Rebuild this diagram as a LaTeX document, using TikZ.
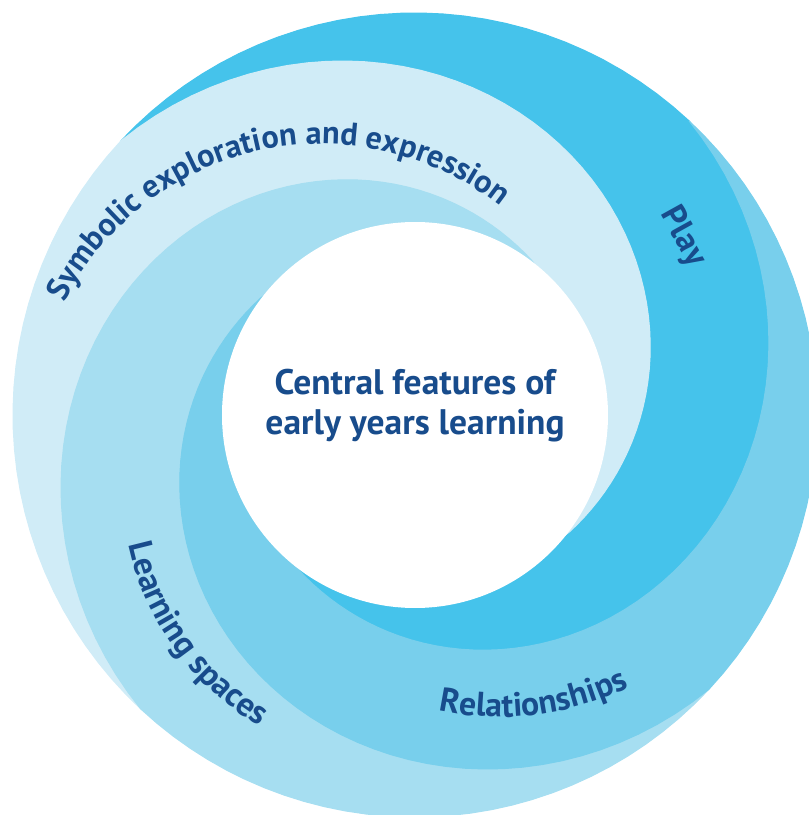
\documentclass[tikz,border=0pt]{standalone}
\usepackage{fontspec}
\setmainfont{PT Sans}
\usetikzlibrary{decorations.text}
\definecolor{playblue}{RGB}{69,195,235}
\definecolor{relblue}{RGB}{120,207,236}
\definecolor{spaceblue}{RGB}{166,222,241}
\definecolor{symblue}{RGB}{208,236,247}
\definecolor{labelnavy}{RGB}{24,76,140}
\newcommand{\ringfont}{\bfseries\fontsize{9.6}{11}\selectfont}

\begin{document}
\begin{tikzpicture}[x=0.1mm, y=0.1mm,
  declare function={spir(\t)=(\t<175) ? (402+(\t/100)*(-97+(\t/100)*(-59.74+26.84*\t/100))) : (193.2-(\t-175));
                    spout(\t)=min(402,spir(\t-90));},
  band/.style={line width=0.3pt, line join=round},
  ringtext/.style={decorate, decoration={text along path, text align=center, text color=labelnavy, text={#1}}}]
\useasboundingbox (0,0) rectangle (809,815);
\clip (0,0) rectangle (809,815);
% Four spiral bands, each starting at its tip and winding inwards
\begin{scope}[shift={(415,400)}]
\foreach \a/\col in {137/playblue, 227/symblue, 317/spaceblue, 47/relblue}
  \fill[\col, draw=\col, band] plot[domain=0:270, samples=91, variable=\t] ({\a-\t}:{spout(\t)})
    -- plot[domain=270:0, samples=91, variable=\t] ({\a-\t}:{spir(\t)}) -- cycle;
% Centre hole
\fill[white] (0,0) circle (193);
\end{scope}
% Centre label
\node[font=\bfseries\fontsize{10.1}{11.4}\selectfont, text=labelnavy, align=center] (centre) at (415,409) {Central features of\\early years learning};
% Band labels
\path[ringtext={|\bfseries\fontsize{9.2}{11}\selectfont|Symbolic exploration and expression}] (321.5,383) ++(172.4:288) arc[start angle=172.4, end angle=32.4, radius=288];
\node[font=\ringfont, text=labelnavy, rotate=-61] (play) at (683,578) {Play};
\path[ringtext={|\ringfont|Relationships}] (500,390) ++(227:292) arc[start angle=227, end angle=327, radius=292];
\path[ringtext={|\ringfont|Learning spaces}] (400,329) ++(166:278) arc[start angle=166, end angle=266, radius=278];
\end{tikzpicture}
\end{document}
